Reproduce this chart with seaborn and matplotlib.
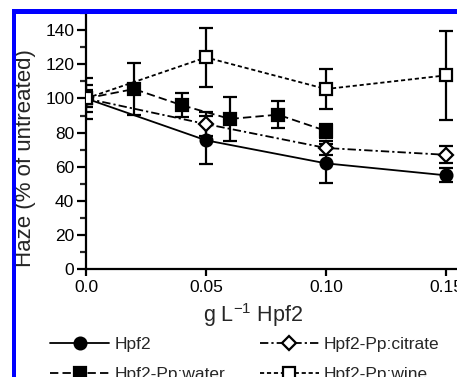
import matplotlib
matplotlib.use("Agg")
import matplotlib.pyplot as plt
from matplotlib.patches import Rectangle
from matplotlib.ticker import MultipleLocator
import seaborn as sns
import pandas as pd

# ---- data ----
series_names = ["Hpf2", "Hpf2-Pp:water", "Hpf2-Pp:citrate", "Hpf2-Pp:wine"]

hpf2_x = [0.0, 0.05, 0.10, 0.15]
hpf2_y = [100, 75.5, 62, 55]
hpf2_err = [5, 14, 11.5, 4]

water_x = [0.0, 0.02, 0.04, 0.06, 0.08, 0.10]
water_y = [100, 105.5, 96, 88, 90.5, 81]
water_err = [12, 15, 7, 13, 8, 4]

citrate_x = [0.0, 0.05, 0.10, 0.15]
citrate_y = [100, 85, 71, 67]
citrate_err = [3, 7, 4, 5]

wine_x = [0.0, 0.05, 0.10, 0.15]
wine_y = [100, 124, 105.5, 113.5]
wine_err = [8, 17.5, 11.7, 26]

x_ticks = [0.0, 0.05, 0.10, 0.15]
x_tick_labels = ["0.0", "0.05", "0.10", "0.15"]
y_ticks = [0, 20, 40, 60, 80, 100, 120, 140]

# ---- style ----
sns.set_style("ticks")
plt.rcParams["font.family"] = ["Liberation Sans", "DejaVu Sans"]
plt.rcParams["mathtext.fontset"] = "custom"
plt.rcParams["mathtext.rm"] = "Liberation Sans"
plt.rcParams["mathtext.it"] = "Liberation Sans:italic"
plt.rcParams["mathtext.bf"] = "Liberation Sans:bold"
plt.rcParams["lines.scale_dashes"] = False

W, H = 457, 377
fig = plt.figure(figsize=(W / 100, H / 100), dpi=100)
ax = fig.add_axes([86 / W, 1 - 269.3 / H, (W - 86) / W, (269.3 - 13) / H])

series = [
    (series_names[0], hpf2_x, hpf2_y, hpf2_err, "o", "black", "-"),
    (series_names[1], water_x, water_y, water_err, "s", "black", (0, (6, 3))),
    (series_names[2], citrate_x, citrate_y, citrate_err, "D", "white", (0, (6, 2.2, 1.6, 2.2))),
    (series_names[3], wine_x, wine_y, wine_err, "s", "white", (0, (3, 2))),
]

for name, xs, ys, es, mk, fc, ls in series:
    df = pd.DataFrame({"x": xs, "y": ys})
    ms = 7.5 if mk == "D" else 8.5
    sns.lineplot(data=df, x="x", y="y", ax=ax, color="black", linestyle=ls,
                 linewidth=1.3, marker=mk, markersize=ms, markerfacecolor=fc,
                 markeredgecolor="black", markeredgewidth=1.6, label=name,
                 legend=False, zorder=3)
    ax.errorbar(xs, ys, yerr=es, fmt="none", ecolor="black", elinewidth=1.6,
                capsize=4.8, capthick=1.6, zorder=2)

line_handles = [l for l in ax.get_lines() if l.get_label() in series_names]

ax.set_xlim(0, 0.1546)
ax.set_ylim(0, 150)
ax.set_xticks(x_ticks)
ax.set_xticklabels(x_tick_labels)
ax.set_yticks(y_ticks)
ax.yaxis.set_minor_locator(MultipleLocator(10))
ax.set_xlabel("")
ax.set_ylabel("")
for s in ["top", "right"]:
    ax.spines[s].set_visible(False)
for s in ["left", "bottom"]:
    ax.spines[s].set_linewidth(1.6)
    ax.spines[s].set_color("black")
ax.tick_params(axis="y", which="major", length=6.5, width=1.6, labelsize=12.5,
               pad=2, colors="black", direction="out")
ax.tick_params(axis="y", which="minor", length=4, width=1.6, direction="out")
ax.tick_params(axis="x", which="major", length=5, width=1.6, labelsize=12.5,
               pad=3, colors="black", direction="out")

fig.text(253 / W, 1 - 315 / H, r"g L$^{\mathregular{-1}}$ Hpf2", ha="center",
         va="center", fontsize=15.5)
fig.text(26 / W, 1 - 158 / H, "Haze (% of untreated)", rotation=90,
         ha="center", va="center", fontsize=16)

fig.legend(handles=line_handles, labels=series_names, ncol=2,
           loc="upper left", bbox_to_anchor=(50 / W, 1 - 337 / H),
           frameon=False, fontsize=12.5, handlelength=3.4, handletextpad=0.3,
           columnspacing=2.0, labelspacing=0.85, borderaxespad=0, borderpad=0)

# blue frame
fig.add_artist(Rectangle((12 / W, 1 - 14 / H), 1, 5 / H, transform=fig.transFigure,
                         facecolor="#0000ff", edgecolor="none", zorder=10))
fig.add_artist(Rectangle((12 / W, 0), 4 / W, 1 - 9 / H, transform=fig.transFigure,
                         facecolor="#0000ff", edgecolor="none", zorder=10))

fig.savefig("out.png", dpi=100)
